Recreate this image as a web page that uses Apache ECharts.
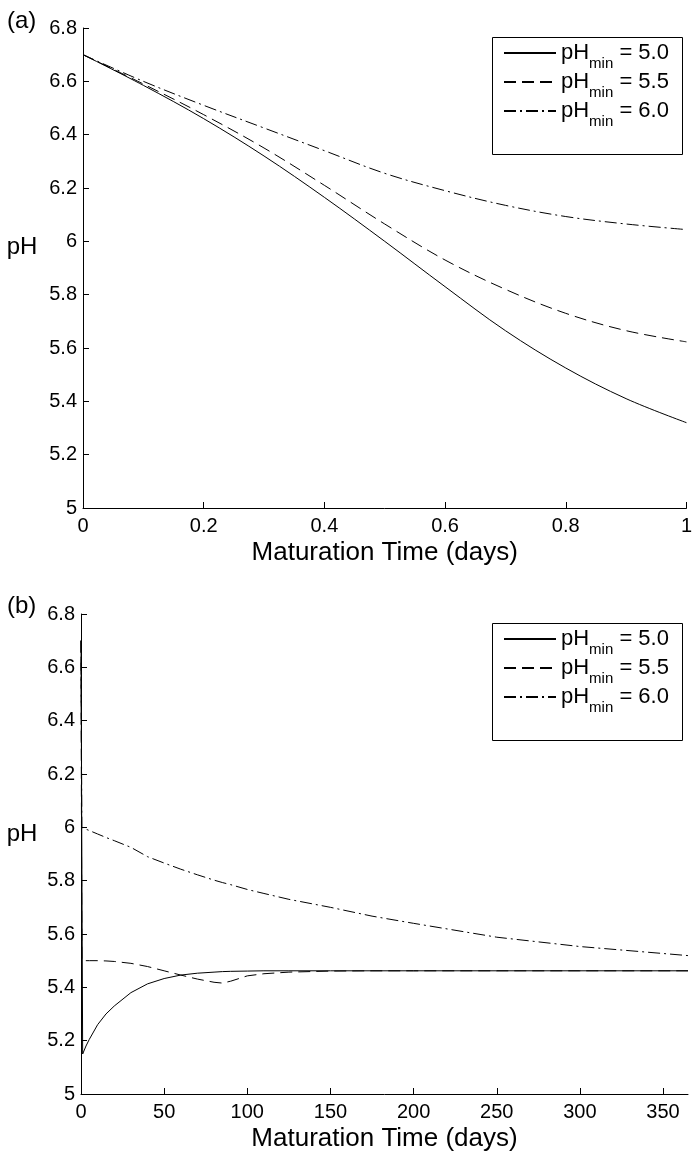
<!DOCTYPE html>
<html><head><meta charset="utf-8">
<script src="https://cdn.jsdelivr.net/npm/echarts@6/dist/echarts.min.js"></script>
<style>html,body{margin:0;padding:0;background:#fff}#c{width:695px;height:1156px}</style>
</head><body><div id="c"></div>
<script>
// ---------- data ----------
const seriesNames = ['pHmin5.0', 'pHmin5.5', 'pHmin6.0'];
const legendValues = ['5.0', '5.5', '6.0'];

// Panel (a): first day
const daysA = [0, 0.1, 0.2, 0.3, 0.4, 0.5, 0.6, 0.7, 0.8, 0.9, 1.0];
const phA_50 = [6.70, 6.585, 6.46, 6.32, 6.165, 6.00, 5.83, 5.665, 5.525, 5.41, 5.32];
const phA_55 = [6.70, 6.59, 6.475, 6.35, 6.21, 6.065, 5.93, 5.82, 5.73, 5.665, 5.623];
const phA_60 = [6.70, 6.60, 6.51, 6.425, 6.34, 6.255, 6.19, 6.135, 6.093, 6.065, 6.044];

// Panel (b): one year
const daysB = [0, 0.5, 1, 3, 5, 10, 15, 20, 30, 40, 50, 60, 70, 80, 85, 90, 100, 110, 125, 150, 175, 200, 250, 300, 365];
const phB_50 = [6.70, 5.90, 5.15, 5.18, 5.205, 5.26, 5.30, 5.33, 5.38, 5.413, 5.433, 5.446, 5.453, 5.457, 5.459, 5.46, 5.461, 5.462, 5.462, 5.462, 5.462, 5.462, 5.462, 5.462, 5.462];
const phB_55 = [6.70, 5.50, 5.50, 5.50, 5.50, 5.50, 5.499, 5.497, 5.49, 5.478, 5.462, 5.446, 5.431, 5.419, 5.416, 5.423, 5.443, 5.451, 5.457, 5.461, 5.462, 5.462, 5.462, 5.462, 5.462];
const phB_60 = [6.70, 6.00, 5.999, 5.993, 5.988, 5.975, 5.962, 5.95, 5.925, 5.89, 5.866, 5.843, 5.822, 5.802, 5.793, 5.785, 5.767, 5.752, 5.73, 5.70, 5.667, 5.64, 5.588, 5.553, 5.519];

// tick labels
const xTicksA = [0, 0.2, 0.4, 0.6, 0.8, 1];
const xTicksB = [0, 50, 100, 150, 200, 250, 300, 350];
const yTicks = [5, 5.2, 5.4, 5.6, 5.8, 6, 6.2, 6.4, 6.6, 6.8];

// ---------- chart ----------
const FONT = '"Liberation Sans", Arial, Helvetica, sans-serif';
const dashes = ['solid', [12, 6], [12, 4, 2, 4]];

function pairs(xs, ys) { return xs.map((x, i) => [x, ys[i]]); }

function xAxisCfg(gi, max, ticks) {
  return {
    gridIndex: gi, type: 'value', min: 0, max: max,
    axisLine: { show: true, onZero: false, lineStyle: { color: '#000', width: 1 } },
    axisTick: { show: true, inside: true, length: 6, customValues: ticks, lineStyle: { color: '#000' } },
    axisLabel: { customValues: ticks, margin: 8, color: '#000', fontSize: 20, fontFamily: FONT },
    splitLine: { show: false },
    name: 'Maturation Time (days)', nameLocation: 'middle', nameGap: 32,
    nameTextStyle: { color: '#000', fontSize: 26, fontFamily: FONT }
  };
}
function yAxisCfg(gi) {
  return {
    gridIndex: gi, type: 'value', min: 5, max: 6.8,
    axisLine: { show: true, onZero: false, lineStyle: { color: '#000', width: 1 } },
    axisTick: { show: true, inside: true, length: 6, customValues: yTicks, lineStyle: { color: '#000' } },
    axisLabel: { customValues: yTicks, margin: 6, color: '#000', fontSize: 20, fontFamily: FONT },
    splitLine: { show: false }
  };
}
function lineSeries(name, gi, data, k, smooth) {
  return {
    name: name, type: 'line', xAxisIndex: gi, yAxisIndex: gi,
    data: data, symbol: 'none', showSymbol: false, smooth: smooth,
    lineStyle: { color: '#000', width: 1, type: dashes[k] },
    itemStyle: { color: '#000' },
    emphasis: { disabled: true }, animation: false
  };
}
function legendCfg(top) {
  return {
    data: seriesNames, orient: 'vertical', left: 503, top: top, padding: 0,
    itemWidth: 52, itemHeight: 14, itemGap: 0, itemTextGap: 4, selectedMode: false,
    itemStyle: { color: 'rgba(0,0,0,0)', borderWidth: 0, opacity: 0 },
    formatter: function (n) { return '{t|pH}{s|min}{t| = ' + legendValues[seriesNames.indexOf(n)] + '}'; },
    textStyle: {
      color: '#000', fontFamily: FONT,
      rich: {
        t: { fontSize: 22, lineHeight: 36, color: '#000', fontFamily: FONT },
        s: { fontSize: 15, lineHeight: 15, verticalAlign: 'bottom', color: '#000', fontFamily: FONT }
      }
    }
  };
}

const chart = echarts.init(document.getElementById('c'), null, { renderer: 'canvas' });
chart.setOption({
  backgroundColor: '#fff',
  animation: false,
  grid: [
    { left: 83, top: 28, width: 609, height: 480 },
    { left: 81, top: 614, width: 607, height: 480 }
  ],
  xAxis: [xAxisCfg(0, 1, xTicksA), xAxisCfg(1, 365, xTicksB)],
  yAxis: [yAxisCfg(0), yAxisCfg(1)],
  legend: [legendCfg(42), legendCfg(628)],
  series: [
    lineSeries(seriesNames[0], 0, pairs(daysA, phA_50), 0, 0.35),
    lineSeries(seriesNames[1], 0, pairs(daysA, phA_55), 1, 0.35),
    lineSeries(seriesNames[2], 0, pairs(daysA, phA_60), 2, 0.35),
    lineSeries(seriesNames[0], 1, pairs(daysB, phB_50), 0, false),
    lineSeries(seriesNames[1], 1, pairs(daysB, phB_55), 1, false),
    lineSeries(seriesNames[2], 1, pairs(daysB, phB_60), 2, false)
  ],
  graphic: [
    { type: 'rect', shape: { x: 492.5, y: 37.5, width: 190, height: 117 }, style: { fill: 'none', stroke: '#000', lineWidth: 1 }, z: 10 },
    { type: 'rect', shape: { x: 492.5, y: 623.5, width: 190, height: 117 }, style: { fill: 'none', stroke: '#000', lineWidth: 1 }, z: 10 },
    { type: 'text', x: 7, y: 21, style: { text: '(a)', fontSize: 24, fontFamily: FONT, fill: '#000', align: 'left', verticalAlign: 'middle' } },
    { type: 'text', x: 7, y: 606, style: { text: '(b)', fontSize: 24, fontFamily: FONT, fill: '#000', align: 'left', verticalAlign: 'middle' } },
    { type: 'text', x: 22, y: 247, style: { text: 'pH', fontSize: 24, fontFamily: FONT, fill: '#000', align: 'center', verticalAlign: 'middle' } },
    { type: 'text', x: 22, y: 834, style: { text: 'pH', fontSize: 24, fontFamily: FONT, fill: '#000', align: 'center', verticalAlign: 'middle' } }
  ]
});
</script>
</body></html>
